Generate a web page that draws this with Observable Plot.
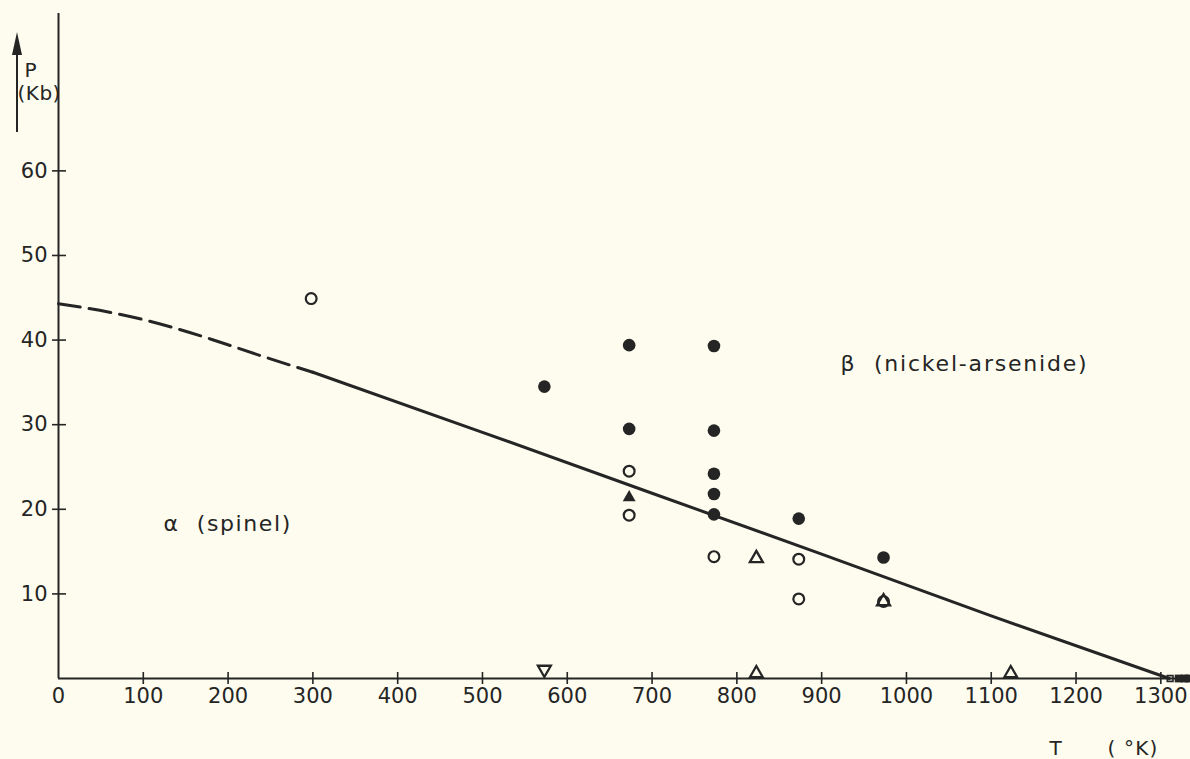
<!DOCTYPE html>
<html><head><meta charset="utf-8">
<script src="https://cdn.jsdelivr.net/npm/d3@7"></script>
<script src="https://cdn.jsdelivr.net/npm/@observablehq/plot@0.6"></script>
<style>
html,body{margin:0;padding:0;background:#fdfcee;}
#chart svg{display:block;}
</style></head><body><div id="chart"></div>
<script>
// tick labels
const xTicks = [0,100,200,300,400,500,600,700,800,900,1000,1100,1200,1300];
const yTicks = [10,20,30,40,50,60];
// phase boundary (dashed: extrapolated, solid: measured)
const dashedT = [0, 60, 120, 180, 240, 300];
const dashedP = [44.3, 43.3, 41.9, 40.1, 38.1, 36.2];
const solidT = [300, 500, 700, 900, 1100, 1310];
const solidP = [36.2, 29.1, 21.9, 14.7, 7.4, 0];
// beta (filled circles)
const betaT = [573, 673, 773, 673, 773, 773, 773, 773, 873, 973];
const betaP = [34.5, 39.4, 39.3, 29.5, 29.3, 24.2, 21.8, 19.4, 18.9, 14.3];
// alpha (open circles)
const alphaT = [298, 673, 673, 773, 873, 873, 973];
const alphaP = [44.9, 24.5, 19.3, 14.4, 14.1, 9.4, 9.1];
// filled triangle
const fTriT = [673];
const fTriP = [21.4];
// open triangles
const oTriT = [823, 973];
const oTriP = [14.2, 9.1];
// open triangles on the T axis (P = 0)
const axisUpT = [823, 1123];
const axisDownT = [573];
// marks at the melting end of the boundary
const endOpenT = [1311];
const endFilledT = [1321, 1328, 1333];

const ink = "#252525";
const font = "DejaVu Sans";
const zip = (a, b) => a.map((v, i) => ({t: v, p: b[i]}));
const axisPts = a => a.map(v => ({t: v, p: 0}));

const downTriangle = {
  draw(context, size) {
    const y = -Math.sqrt(size / (Math.sqrt(3) * 3));
    context.moveTo(0, -y * 2);
    context.lineTo(-Math.sqrt(3) * y, y);
    context.lineTo(Math.sqrt(3) * y, y);
    context.closePath();
  }
};

const plot = Plot.plot({
  width: 1190, height: 759,
  marginLeft: 58, marginRight: 0, marginTop: 13, marginBottom: 81,
  style: {background: "transparent", fontFamily: font, fontSize: "21px", color: ink, overflow: "visible"},
  x: {domain: [0, 1335], axis: null},
  y: {domain: [0, 78.6], axis: null},
  marks: [
    Plot.ruleX([0], {stroke: ink, strokeWidth: 2}),
    Plot.ruleY([0], {stroke: ink, strokeWidth: 2}),
    Plot.ruleX(xTicks.slice(1), {x: d => d, y1: 0, y2: 0, insetTop: -6, insetBottom: -6, stroke: ink, strokeWidth: 1.6}),
    Plot.ruleY(yTicks, {y: d => d, x1: 0, x2: 0, insetLeft: -6, insetRight: -8, stroke: ink, strokeWidth: 1.6}),
    Plot.text(xTicks, {x: d => d, y: 0, text: d => String(d), lineAnchor: "top", dy: 10, fill: ink, fontSize: 21, fontFamily: font}),
    Plot.text(yTicks, {x: 0, y: d => d, text: d => String(d), textAnchor: "end", lineAnchor: "middle", dx: -11, fill: ink, fontSize: 21, fontFamily: font}),
    Plot.line(zip(dashedT, dashedP), {x: "t", y: "p", stroke: ink, strokeWidth: 3, strokeDasharray: "22,9", curve: "natural"}),
    Plot.line(zip(solidT, solidP), {x: "t", y: "p", stroke: ink, strokeWidth: 3}),
    Plot.dot(zip(betaT, betaP), {x: "t", y: "p", r: 6.3, fill: ink}),
    Plot.dot(zip(alphaT, alphaP), {x: "t", y: "p", r: 5.4, stroke: ink, strokeWidth: 2.2, fill: "none"}),
    Plot.dot(zip(fTriT, fTriP), {x: "t", y: "p", r: 4.8, symbol: "triangle", fill: ink}),
    Plot.dot(zip(oTriT, oTriP), {x: "t", y: "p", r: 4.8, symbol: "triangle", stroke: ink, strokeWidth: 2.3, fill: "none"}),
    Plot.dot(axisPts(axisUpT), {x: "t", y: "p", r: 4.8, dy: -5, symbol: "triangle", stroke: ink, strokeWidth: 2.3, fill: "none"}),
    Plot.dot(axisPts(axisDownT), {x: "t", y: "p", r: 4.8, dy: -9, symbol: downTriangle, stroke: ink, strokeWidth: 2.3, fill: "none"}),
    Plot.dot(axisPts(endOpenT), {x: "t", y: "p", r: 3.2, symbol: "square", stroke: ink, strokeWidth: 1.6, fill: "none"}),
    Plot.dot(axisPts(endFilledT), {x: "t", y: "p", r: 4.4, symbol: "square", fill: ink}),
    Plot.text(["α  (spinel)"], {frameAnchor: "top-left", dx: 105, dy: 510, textAnchor: "start", lineAnchor: "middle", fill: ink, fontSize: 22, fontFamily: font}),
    Plot.text(["β  (nickel-arsenide)"], {frameAnchor: "top-left", dx: 782, dy: 350, textAnchor: "start", lineAnchor: "middle", fill: ink, fontSize: 22, fontFamily: font}),
    Plot.text(["P"], {frameAnchor: "top-left", dx: -34, dy: 57, textAnchor: "start", lineAnchor: "middle", fill: ink, fontSize: 20, fontFamily: font}),
    Plot.text(["(Kb)"], {frameAnchor: "top-left", dx: -41, dy: 80, textAnchor: "start", lineAnchor: "middle", fill: ink, fontSize: 20, fontFamily: font}),
    Plot.text(["T"], {frameAnchor: "bottom-right", dx: -135, dy: 70, textAnchor: "middle", lineAnchor: "middle", fill: ink, fontSize: 20, fontFamily: font}),
    Plot.text(["( °K)"], {frameAnchor: "bottom-right", dx: -83, dy: 70, textAnchor: "start", lineAnchor: "middle", fill: ink, fontSize: 20, fontFamily: font})
  ]
});

// wide letter spacing of the lettering-stencil labels
const spacing = {"α  (spinel)": 1.6, "β  (nickel-arsenide)": 1.8, "( °K)": 1.2, "(Kb)": 0.5};
d3.select(plot).selectAll("text").each(function() {
  const s = spacing[this.textContent];
  if (s != null) this.setAttribute("letter-spacing", s);
});

// arrow next to the P axis label, placed from the library's scales
const sx = plot.scale("x"), sy = plot.scale("y");
const ax = sx.apply(0) - 41;
const topY = sy.apply(sy.domain[1]);
const g = d3.select(plot).append("g");
g.append("line").attr("x1", ax).attr("x2", ax).attr("y1", topY + 30).attr("y2", topY + 119)
  .attr("stroke", ink).attr("stroke-width", 2);
g.append("path").attr("d", `M${ax},${topY + 19}L${ax - 5},${topY + 42}L${ax + 5},${topY + 42}Z`).attr("fill", ink);

document.getElementById("chart").appendChild(plot);
</script>
</body></html>
